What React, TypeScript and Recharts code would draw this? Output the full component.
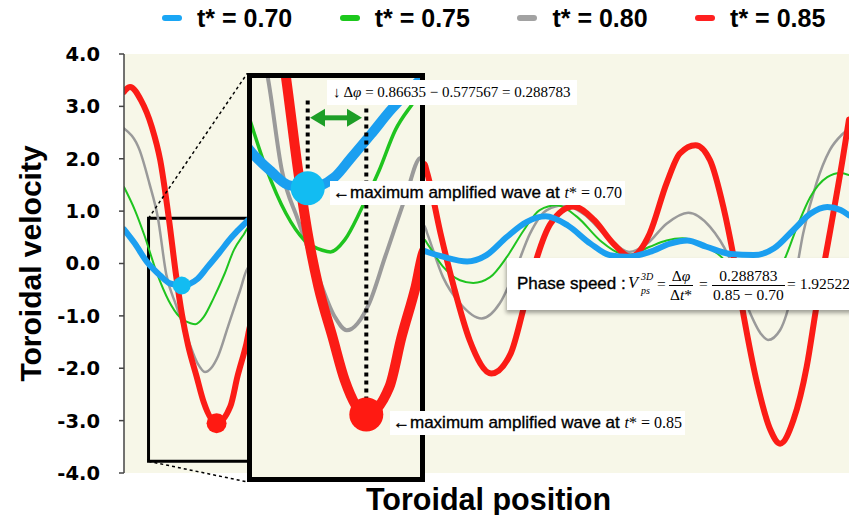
import React from 'react';
import {
  LineChart,
  Line,
  XAxis,
  YAxis,
  CartesianGrid,
  ReferenceArea,
  ReferenceDot,
  ReferenceLine,
} from 'recharts';

// ---- data -------------------------------------------------------------
// dimensionless times of the four snapshots
const tStar = [0.7, 0.75, 0.8, 0.85];

// toroidal position / toroidal velocity samples for each snapshot
const pos070 = [0.1, 0.19, 0.29, 0.4, 0.48, 0.577567, 0.71, 0.79, 0.89, 0.99, 1.09, 1.15,
  2.585, 2.61, 2.74, 2.94, 3.1, 3.27, 3.43, 3.59, 3.77, 3.96, 4.12, 4.27, 4.45, 4.62, 4.76, 4.92,
  5.12, 5.31, 5.48, 5.64, 5.78, 5.92, 6.03, 6.1];
const vel070 = [0.65, 0.38, 0.03, -0.23, -0.38, -0.42, -0.29, -0.07, 0.21, 0.5, 0.74, 0.86,
  0.24, 0.22, 0.13, 0.04, 0.16, 0.51, 0.79, 0.9, 0.73, 0.38, 0.16, 0.13, 0.22, 0.38, 0.44, 0.32,
  0.18, 0.16, 0.29, 0.64, 0.95, 1.08, 1.02, 0.92];

const pos075 = [0.1, 0.19, 0.27, 0.37, 0.47, 0.56, 0.65, 0.69, 0.76, 0.84, 0.93, 1.01, 1.09, 1.15,
  2.585, 2.61, 2.74, 2.88, 2.99, 3.13, 3.27, 3.41, 3.54, 3.68, 3.85, 4.04, 4.21, 4.29, 4.45, 4.59,
  4.72, 4.87, 5.01, 5.33, 5.57, 5.67, 5.78, 5.92, 6.03, 6.1];
const vel075 = [1.46, 1.02, 0.53, -0.17, -0.71, -1.02, -1.14, -1.16, -1.02, -0.67, -0.21, 0.26, 0.55, 0.74,
  0.46, 0.38, -0.06, -0.32, -0.37, -0.26, 0.13, 0.64, 1.02, 1.11, 0.89, 0.44, 0.19, 0.17, 0.32, 0.44,
  0.48, 0.38, 0.19, -0.5, 0.1, 0.7, 1.27, 1.65, 1.73, 1.69];

const pos080 = [0.1, 0.23, 0.31, 0.38, 0.45, 0.53, 0.63, 0.71, 0.77, 0.88, 0.96, 1.06, 1.13,
  2.585, 2.61, 2.74, 2.88, 3.06, 3.21, 3.35, 3.46, 3.6, 3.74, 3.9, 4.1, 4.28, 4.43, 4.59, 4.77, 4.95,
  5.12, 5.26, 5.37, 5.43, 5.53, 5.64, 5.72, 5.83, 5.94, 6.05, 6.1];
const vel080 = [2.58, 2.16, 1.53, 0.88, -0.21, -0.79, -1.45, -1.91, -2.07, -1.76, -1.21, -0.52, -0.07,
  0.72, 0.57, -0.26, -0.76, -1.05, -0.76, -0.06, 0.57, 1.02, 1.11, 0.95, 0.51, 0.22, 0.38, 0.76, 0.97, 0.7,
  0.06, -0.83, -1.34, -1.46, -1.27, -0.45, 0.57, 1.53, 2.16, 2.48, 2.58];

const pos085 = [0.1, 0.15, 0.24, 0.33, 0.4, 0.47, 0.53, 0.58, 0.63, 0.7, 0.76, 0.86635, 0.98, 1.04, 1.11, 1.15,
  2.585, 2.61, 2.72, 2.83, 2.96, 3.14, 3.3, 3.41, 3.52, 3.63, 3.82, 3.99, 4.15, 4.29, 4.45, 4.59, 4.7,
  4.83, 4.95, 5.06, 5.14, 5.23, 5.34, 5.45, 5.53, 5.64, 5.75, 5.83, 5.94, 6.05, 6.1];
const vel085 = [3.28, 3.37, 3.12, 2.61, 1.97, 0.88, -0.21, -0.98, -1.56, -2.15, -2.65, -3.05, -2.73, -2.15, -1.56, -1.15,
  1.9, 1.72, 0.57, -0.45, -1.46, -2.1, -1.72, -0.83, 0.13, 0.76, 1.09, 0.83, 0.38, 0.13, 0.57, 1.53, 2.1,
  2.26, 1.97, 1.08, 0.19, -1.02, -2.29, -3.18, -3.44, -2.99, -1.97, -0.83, 0.57, 2.03, 2.75];

// velocity axis ticks
const yTicks = [-4, -3, -2, -1, 0, 1, 2, 3, 4];

// positions of the maximum amplified wave at t* = 0.70 and t* = 0.85
const peakPos070 = 0.577567;
const peakVel070 = -0.42;
const peakPos085 = 0.86635;
const peakVel085 = -3.05;

const phaseDelta = +(peakPos085 - peakPos070).toFixed(6);
const phaseSpeed = phaseDelta / (tStar[3] - tStar[0]);

// ---- styling ----------------------------------------------------------
const sans = '"Liberation Sans", Arial, Helvetica, sans-serif';
const serif = '"Liberation Serif", "Times New Roman", serif';
const plotBg = '#f7f7e8';

type Series = {
  name: string;
  color: string;
  legendColor: string;
  width: number;
  zoomWidth: number;
  data: { pos: number; v: number }[];
};

const makeData = (p: number[], v: number[]) => p.map((x, i) => ({ pos: x, v: v[i] }));

const series070: Series = { name: `t* = ${tStar[0].toFixed(2)}`, color: '#1b9ff0', legendColor: '#1aa6f5', width: 6, zoomWidth: 10, data: makeData(pos070, vel070) };
const series075: Series = { name: `t* = ${tStar[1].toFixed(2)}`, color: '#1fc41f', legendColor: '#1cc81c', width: 2, zoomWidth: 3.5, data: makeData(pos075, vel075) };
const series080: Series = { name: `t* = ${tStar[2].toFixed(2)}`, color: '#9a9a9a', legendColor: '#a2a2a2', width: 2.5, zoomWidth: 4, data: makeData(pos080, vel080) };
const series085: Series = { name: `t* = ${tStar[3].toFixed(2)}`, color: '#fb1c16', legendColor: '#ff2020', width: 6, zoomWidth: 10, data: makeData(pos085, vel085) };

const legendOrder = [series070, series075, series080, series085];
const drawOrder = [series080, series075, series085, series070];

const xDomain: [number, number] = [0.1, 6.1];
const yDomain: [number, number] = [-4, 4];
// window that is magnified in the inset
const zoomX: [number, number] = [0.303, 1.131];
const zoomY: [number, number] = [-3.777, 0.863];

const dotBlue = '#12bcf2';
const dotRed = '#ff1a12';

const renderLines = (zoomed: boolean) =>
  drawOrder.map((s) => (
    <Line
      key={s.name}
      name={s.name}
      data={s.data}
      dataKey="v"
      type="monotone"
      stroke={s.color}
      strokeWidth={zoomed ? s.zoomWidth : s.width}
      strokeLinecap="round"
      strokeLinejoin="round"
      dot={false}
      activeDot={false}
      isAnimationActive={false}
    />
  ));

const YLabel = (props: any) => {
  const vb = props.viewBox || { x: 0, y: 54, width: 124, height: 419 };
  const cy = vb.y + vb.height / 2;
  return (
    <text
      transform={`translate(41 ${cy}) rotate(-90)`}
      textAnchor="middle"
      fill="#000"
      style={{ font: `bold 30px ${sans}` }}
    >
      Toroidal velocity
    </text>
  );
};

const XLabel = (props: any) => {
  const vb = props.viewBox || { x: 124, y: 473, width: 725, height: 42 };
  return (
    <text
      x={vb.x + vb.width / 2 + 2}
      y={vb.y + 37}
      textAnchor="middle"
      fill="#000"
      style={{ font: `bold 30.5px ${sans}` }}
    >
      Toroidal position
    </text>
  );
};

// double headed arrow drawn between the two segment end points
const DoubleArrow = (props: any) => {
  const { x1, y1, x2 } = props;
  const head = 15;
  const half = 9;
  const c = '#1d9e27';
  return (
    <g>
      <line x1={x1 + head - 2} y1={y1} x2={x2 - head + 2} y2={y1} stroke={c} strokeWidth={5} />
      <polygon points={`${x1},${y1} ${x1 + head},${y1 - half} ${x1 + head},${y1 + half}`} fill={c} />
      <polygon points={`${x2},${y1} ${x2 - head},${y1 - half} ${x2 - head},${y1 + half}`} fill={c} />
    </g>
  );
};

const mathFont = `15.5px ${serif}`;

const Frac = ({ left, num, den }: { left: number; num: React.ReactNode; den: React.ReactNode }) => (
  <div
    style={{
      position: 'absolute',
      left,
      top: 9,
      display: 'flex',
      flexDirection: 'column',
      alignItems: 'center',
      font: mathFont,
      lineHeight: '18px',
      whiteSpace: 'nowrap',
    }}
  >
    <div style={{ padding: '0 1px' }}>{num}</div>
    <div style={{ alignSelf: 'stretch', height: 1, background: '#000' }} />
    <div style={{ padding: '0 1px' }}>{den}</div>
  </div>
);

const Legend = () => (
  <div style={{ position: 'absolute', left: 0, top: 0, width: 849, height: 40 }}>
    {legendOrder.map((s, i) => {
      const left = 162 + i * 177.7;
      return (
        <React.Fragment key={s.name}>
          <div
            style={{
              position: 'absolute',
              left,
              top: 15,
              width: 20,
              height: 6,
              borderRadius: 3,
              background: s.legendColor,
            }}
          />
          <div
            style={{
              position: 'absolute',
              left: left + 35,
              top: 4,
              font: `bold 25px ${sans}`,
              lineHeight: '28px',
              whiteSpace: 'nowrap',
              color: '#000',
            }}
          >
            {s.name}
          </div>
        </React.Fragment>
      );
    })}
  </div>
);

const labelSans = { font: `17px ${sans}`, WebkitTextStroke: '0.35px #000' } as React.CSSProperties;

export default function App() {
  return (
    <div
      style={{
        position: 'absolute',
        left: 0,
        top: 0,
        width: 849,
        height: 515,
        background: '#fff',
        overflow: 'hidden',
      }}
    >
      <LineChart width={849} height={515} margin={{ top: 54, right: 0, bottom: 0, left: 0 }}>
        <CartesianGrid horizontal={false} vertical={false} fill={plotBg} stroke="none" />
        <XAxis
          type="number"
          dataKey="pos"
          domain={xDomain}
          allowDataOverflow
          height={42}
          tick={false}
          tickLine={false}
          axisLine={false}
          label={XLabel}
        />
        <YAxis
          type="number"
          domain={yDomain}
          ticks={yTicks}
          allowDataOverflow
          width={124}
          tickFormatter={(v: number) => v.toFixed(1)}
          tick={{ fill: '#000', fontFamily: '"DejaVu Sans", sans-serif', fontWeight: 'bold', fontSize: 19.5 }}
          tickSize={5}
          tickMargin={19}
          tickLine={{ stroke: '#444', strokeWidth: 1.5 }}
          axisLine={{ stroke: '#444', strokeWidth: 1.5 }}
          label={YLabel}
        />
        {renderLines(false)}
        <ReferenceArea
          x1={zoomX[0]}
          x2={zoomX[1]}
          y1={zoomY[0]}
          y2={zoomY[1]}
          fill="none"
          fillOpacity={0}
          stroke="#000"
          strokeWidth={3}
          ifOverflow="visible"
        />
        <ReferenceLine
          segment={[{ x: zoomX[0], y: zoomY[1] }, { x: 1.12, y: 3.63 }]}
          stroke="#000"
          strokeWidth={1.5}
          strokeDasharray="3 3"
          ifOverflow="visible"
        />
        <ReferenceLine
          segment={[{ x: zoomX[0], y: zoomY[0] }, { x: 1.12, y: -4.17 }]}
          stroke="#000"
          strokeWidth={1.5}
          strokeDasharray="3 3"
          ifOverflow="visible"
        />
        <ReferenceDot x={peakPos070} y={peakVel070} r={9} fill={dotBlue} stroke="none" />
        <ReferenceDot x={peakPos085} y={peakVel085} r={10} fill={dotRed} stroke="none" />
      </LineChart>

      <Legend />

      {/* magnified view of the boxed window */}
      <div
        style={{
          position: 'absolute',
          left: 247,
          top: 73,
          width: 168,
          height: 399,
          border: '5px solid #000',
          background: plotBg,
          overflow: 'hidden',
        }}
      >
        <LineChart width={168} height={399} margin={{ top: 0, right: 0, bottom: 0, left: 0 }}>
          <XAxis type="number" dataKey="pos" domain={zoomX} allowDataOverflow hide />
          <YAxis type="number" domain={zoomY} allowDataOverflow hide />
          {renderLines(true)}
          <ReferenceLine
            segment={[{ x: peakPos070, y: 0.6 }, { x: peakPos070, y: peakVel070 }]}
            stroke="#000"
            strokeWidth={4}
            strokeDasharray="4 4"
          />
          <ReferenceLine
            segment={[{ x: peakPos085, y: 0.6 }, { x: peakPos085, y: peakVel085 }]}
            stroke="#000"
            strokeWidth={4}
            strokeDasharray="4 4"
          />
          <ReferenceLine
            segment={[{ x: 0.589, y: 0.4 }, { x: 0.845, y: 0.4 }]}
            shape={DoubleArrow}
          />
          <ReferenceDot x={peakPos070} y={peakVel070} r={17} fill={dotBlue} stroke="none" />
          <ReferenceDot x={peakPos085} y={peakVel085} r={17} fill={dotRed} stroke="none" />
        </LineChart>
      </div>

      {/* phase difference */}
      <div
        style={{
          position: 'absolute',
          left: 327,
          top: 80,
          height: 25,
          padding: '0 6px',
          background: '#fff',
          font: `15px ${serif}`,
          lineHeight: '25px',
          whiteSpace: 'nowrap',
          color: '#000',
        }}
      >
        ↓ Δ<i>φ</i> = {String(peakPos085)} − {String(peakPos070)} = {phaseDelta.toFixed(6)}
      </div>

      {/* peak annotations */}
      <div
        style={{
          position: 'absolute',
          left: 330,
          top: 181,
          height: 24,
          padding: '0 3px',
          background: '#fff',
          lineHeight: '24px',
          whiteSpace: 'nowrap',
          color: '#000',
        }}
      >
        <span style={labelSans}>←maximum amplified wave at </span>
        <span style={{ font: `16px ${serif}` }}>
          <i>t</i>* = {tStar[0].toFixed(2)}
        </span>
      </div>
      <div
        style={{
          position: 'absolute',
          left: 390,
          top: 411,
          height: 24,
          padding: '0 3px',
          background: '#fff',
          lineHeight: '24px',
          whiteSpace: 'nowrap',
          color: '#000',
        }}
      >
        <span style={labelSans}>←maximum amplified wave at </span>
        <span style={{ font: `16px ${serif}` }}>
          <i>t</i>* = {tStar[3].toFixed(2)}
        </span>
      </div>

      {/* phase speed */}
      <div
        style={{
          position: 'absolute',
          left: 507,
          top: 258,
          width: 360,
          height: 52,
          background: '#fff',
          boxShadow: '-1px 3px 4px rgba(0,0,0,0.35)',
          color: '#000',
        }}
      >
        <span style={{ position: 'absolute', left: 10, top: 16, lineHeight: '20px', whiteSpace: 'nowrap', ...labelSans }}>
          Phase speed :
        </span>
        <span style={{ position: 'absolute', left: 121, top: 15, lineHeight: '20px', font: `italic 16.5px ${serif}` }}>V</span>
        <span style={{ position: 'absolute', left: 134, top: 13, lineHeight: '12px', font: `italic 10px ${serif}` }}>3D</span>
        <span style={{ position: 'absolute', left: 134, top: 27, lineHeight: '12px', font: `italic 10px ${serif}` }}>ps</span>
        <span style={{ position: 'absolute', left: 150, top: 17, lineHeight: '20px', font: mathFont }}>=</span>
        <Frac
          left={162}
          num={<>Δ<i>φ</i></>}
          den={<>Δ<i>t</i>*</>}
        />
        <span style={{ position: 'absolute', left: 192, top: 17, lineHeight: '20px', font: mathFont }}>=</span>
        <Frac left={205} num={phaseDelta.toFixed(6)} den={`${tStar[3].toFixed(2)} − ${tStar[0].toFixed(2)}`} />
        <span style={{ position: 'absolute', left: 280, top: 17, lineHeight: '20px', font: mathFont, whiteSpace: 'nowrap' }}>
          = {phaseSpeed.toFixed(5)}
        </span>
      </div>
    </div>
  );
}
